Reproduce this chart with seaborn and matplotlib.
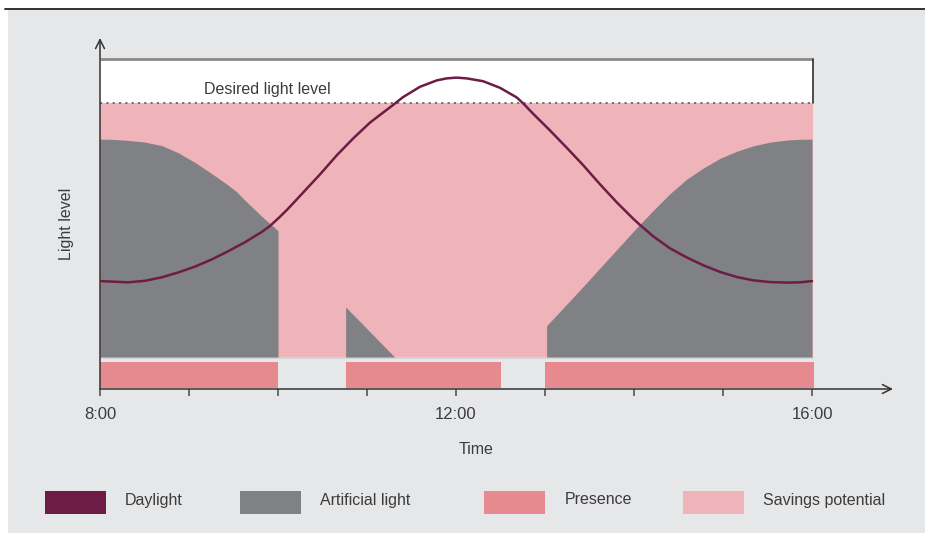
import matplotlib
matplotlib.use('Agg')
from matplotlib import pyplot as plt
from matplotlib.patches import Rectangle
import seaborn as sns

sns.set_style('white')
plt.rcParams['font.family'] = ['Liberation Sans', 'DejaVu Sans']

# daylight curve (hour, level; desired level = 100)
daylight_h = [8.0, 8.315, 8.506, 8.697, 8.88, 9.067, 9.255, 9.438, 9.629, 9.82, 9.91,
              10.003, 10.097, 10.191, 10.281, 10.472, 10.66, 10.846, 11.034, 11.183,
              11.292, 11.404, 11.596, 11.783, 11.895, 12.008, 12.12, 12.303, 12.494,
              12.682, 12.753, 12.869, 13.056, 13.244, 13.427, 13.618, 13.806, 13.992,
              14.067, 14.213, 14.404, 14.592, 14.779, 14.966, 15.154, 15.337, 15.528,
              15.716, 15.865, 16.0]
daylight_lv = [29.9, 29.4, 30.0, 31.4, 33.3, 35.6, 38.4, 41.6, 45.2, 49.3, 51.6,
               54.6, 57.8, 61.3, 64.7, 71.9, 79.4, 86.1, 92.3, 96.3,
               99.2, 102.3, 106.4, 108.9, 109.7, 110.0, 109.7, 108.6, 106.0,
               102.2, 99.9, 95.7, 89.2, 82.4, 75.6, 68.0, 60.9, 54.4,
               52.0, 47.6, 42.8, 39.2, 36.1, 33.5, 31.5, 30.2, 29.5,
               29.3, 29.4, 29.9]

# artificial light, three pieces
art1_h = [8.0, 8.131, 8.315, 8.506, 8.697, 8.88, 9.067, 9.255, 9.438, 9.536, 9.629,
          9.82, 9.966, 10.0, 10.0]
art1_lv = [85.8, 85.7, 85.3, 84.6, 83.2, 80.4, 76.6, 72.2, 67.7, 65.0, 61.7,
           55.3, 50.8, 49.7, 0]
art2_h = [10.76, 10.76, 11.31]
art2_lv = [0, 19.7, 0]
art3_h = [13.018, 13.018, 13.393, 13.843, 14.03, 14.213, 14.31, 14.404, 14.592, 14.779,
          14.966, 15.154, 15.337, 15.528, 15.716, 15.865, 16.0]
art3_lv = [0, 12.3, 26.4, 43.7, 50.9, 57.6, 61.0, 64.3, 70.0, 74.4,
           78.2, 81.0, 83.1, 84.6, 85.4, 85.7, 85.8]

# presence periods (start, end)
presence = [(8.0, 10.0), (10.76, 12.5), (13.0, 16.02)]

desired = 100
tick_hours = [8, 9, 10, 11, 12, 13, 14, 15, 16]
tick_labels = ['8:00', '', '', '', '12:00', '', '', '', '16:00']

legend_names = ['Daylight', 'Artificial light', 'Presence', 'Savings potential']

c_bg = '#e6e7e9'
c_day = '#6e1c46'
c_art = '#808184'
c_pres = '#e78a8f'
c_save = '#efb3ba'
c_txt = '#3c3c3c'

fig = plt.figure(figsize=(9.25, 5.36), dpi=100)
fig.patch.set_facecolor('white')
W, H = 925, 536
fig.patches.append(Rectangle((8 / W, 3 / H), 917 / W, 524 / H, transform=fig.transFigure,
                             facecolor=c_bg, edgecolor='none', zorder=-10))
fig.add_artist(plt.Line2D([5 / W, 1], [1 - 9 / H, 1 - 9 / H], color='#222222', lw=1.3))

ax = fig.add_axes([100 / W, 147 / H, 793 / W, 351 / H])
ax.set_facecolor('none')
ax.set_xlim(8, 16.91)
ax.set_ylim(-12.6, 125.6)

# white band above desired level, savings area below
ax.add_patch(Rectangle((8, desired), 8, 17.3, facecolor='white', edgecolor='none', zorder=1))
ax.plot([8, 16.01], [117.3, 117.3], color='#8a8a8a', lw=2, zorder=3, solid_capstyle='butt')
ax.plot([16.01, 16.01], [desired, 117.5], color='#333333', lw=1.2, zorder=3)
ax.add_patch(Rectangle((8, 0), 8.01, desired, facecolor=c_save, edgecolor='none', zorder=1))
ax.plot([8, 16.01], [desired, desired], color='#666666', lw=1.3, ls=(0, (1.2, 2.3)), zorder=3)
ax.plot([8, 16.01], [-0.4, -0.4], color='#cfd1d3', lw=1.2, zorder=2)

for h, lv in [(art1_h, art1_lv), (art2_h, art2_lv), (art3_h, art3_lv)]:
    ax.fill_between(h, 0, lv, color=c_art, lw=0, zorder=2)

sns.lineplot(x=daylight_h, y=daylight_lv, ax=ax, color=c_day, lw=1.8, zorder=4,
             sort=False, estimator=None)

for s, e in presence:
    ax.add_patch(Rectangle((s, -12.2), e - s, 10.2, facecolor=c_pres, edgecolor='none', zorder=2))

ax.text(9.88, 105.3, 'Desired light level', ha='center', va='center', fontsize=11.5, color=c_txt, zorder=5)

# axes with arrows
for sp in ax.spines.values():
    sp.set_visible(False)
ax.annotate('', xy=(0, 1), xytext=(0, 0), xycoords='axes fraction',
            arrowprops=dict(arrowstyle='->', lw=1.1, color='#333333', shrinkA=0, shrinkB=0,
                            mutation_scale=16))
ax.annotate('', xy=(1, 0), xytext=(0, 0), xycoords='axes fraction',
            arrowprops=dict(arrowstyle='->', lw=1.1, color='#333333', shrinkA=0, shrinkB=0,
                            mutation_scale=16))
ax.set_yticks([])
ax.set_xticks(tick_hours)
ax.set_xticklabels(tick_labels, fontsize=12, color=c_txt)
ax.tick_params(axis='x', direction='out', length=5, width=1.2, color='#555555', pad=8, bottom=True)

fig.text(476 / W, 1 - 450 / H, 'Time', ha='center', va='center', fontsize=11.5, color=c_txt)
fig.text(66 / W, 1 - 224 / H, 'Light level', ha='center', va='center', rotation=90,
         fontsize=11.5, color=c_txt)

# legend
leg_colors = [c_day, c_art, c_pres, c_save]
sw_x = [45, 240, 484, 683]
tx_x = [125, 320, 565, 763]
for name, col, sx, tx in zip(legend_names, leg_colors, sw_x, tx_x):
    fig.patches.append(Rectangle((sx / W, 1 - 514 / H), 61 / W, 23 / H, transform=fig.transFigure,
                                 facecolor=col, edgecolor='none'))
    fig.text(tx / W, 1 - 500 / H, name, ha='left', va='center', fontsize=11.5, color=c_txt)

fig.savefig('out.png', dpi=100, facecolor=fig.get_facecolor())
